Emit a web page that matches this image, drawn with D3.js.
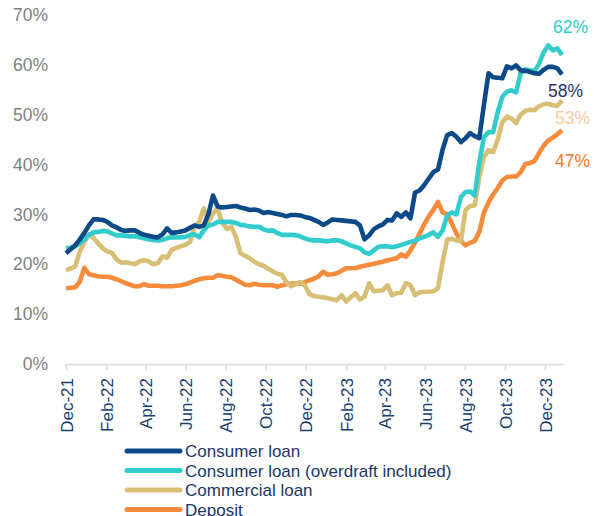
<!DOCTYPE html>
<html>
<head>
<meta charset="utf-8">
<script src="https://cdn.jsdelivr.net/npm/d3@7"></script>
<style>
  body { margin: 0; background: #fff; }
  text { font-family: "Liberation Sans", Arial, sans-serif; }
</style>
</head>
<body>
<div id="chart"></div>
<script>
// Weekly observations, first one on 1 Dec 2021
var firstWeek = "2021-12-01";

// Share of ... (%), one value per week
var consumerLoan = [
  22.2, 23.0, 23.8, 25.0, 26.3, 27.8, 29.0, 29.0, 28.9, 28.5,
  27.8, 27.4, 26.9, 26.7, 26.8, 26.8, 26.3, 25.9, 25.7, 25.5,
  25.4, 26.0, 27.2, 26.3, 26.4, 26.6, 26.8, 27.3, 27.8, 27.5,
  27.8, 30.0, 33.8, 31.6, 31.4, 31.5, 31.6, 31.7, 31.4, 31.2,
  30.9, 31.0, 30.8, 30.3, 30.5, 30.3, 30.1, 29.9, 29.6, 29.9,
  29.9, 29.8, 29.5, 29.3, 28.9, 28.5, 27.9, 28.4, 29.0, 28.9,
  28.8, 28.7, 28.6, 28.5, 27.8, 25.0, 25.8, 27.0, 27.6, 28.0,
  28.9, 28.8, 30.2, 29.5, 30.4, 29.2, 34.4, 34.8, 35.9, 37.2,
  38.5, 39.0, 43.0, 45.9, 46.3, 45.6, 44.5, 45.3, 46.3, 45.7,
  45.3, 52.0, 58.3, 57.5, 57.4, 57.3, 59.7, 59.3, 59.9, 58.9,
  58.8, 58.6, 58.3, 58.2, 59.0, 59.6, 59.6, 59.3, 58.1
];

var consumerLoanOverdraft = [
  23.2, 23.3, 23.6, 24.2, 25.0, 25.9, 26.4, 26.5, 26.7, 26.6,
  26.2, 25.8, 25.8, 25.7, 25.6, 25.6, 25.4, 25.2, 25.0, 24.9,
  24.8, 24.9, 25.2, 25.4, 25.4, 25.4, 25.5, 25.9, 26.0, 25.4,
  26.8, 27.8, 28.0, 28.5, 28.5, 28.5, 28.5, 28.3, 27.9, 27.8,
  27.6, 27.5, 27.5, 27.0, 26.7, 26.8, 26.3, 25.9, 25.9, 25.9,
  25.8, 25.6, 25.2, 24.9, 24.8, 24.8, 24.7, 24.6, 24.8, 24.8,
  24.6, 24.2, 23.8, 23.5, 23.2, 22.4, 22.1, 22.8, 23.5, 23.6,
  23.6, 23.4, 23.6, 23.9, 24.2, 24.5, 24.7, 25.2, 25.5, 25.9,
  26.4, 25.5, 26.8, 29.8, 30.4, 30.0, 33.5, 34.5, 34.6, 33.8,
  40.5, 45.5, 46.5, 46.5, 50.5, 53.6, 54.6, 54.9, 54.5, 58.3,
  59.1, 58.9, 58.7, 60.2, 62.5, 63.9, 62.9, 63.3, 62.0
];

var commercialLoan = [
  18.8, 19.2, 19.6, 22.5, 24.4, 26.0, 25.3, 24.2, 23.2, 22.6,
  22.3, 21.0, 20.3, 20.4, 20.2, 20.0, 20.6, 20.8, 20.6, 20.0,
  20.2, 21.6, 21.3, 22.9, 23.3, 23.6, 23.9, 24.5, 27.6, 28.5,
  31.2, 28.5, 30.2, 31.2, 28.4, 27.1, 27.5, 25.5, 22.2, 21.7,
  21.2, 20.5, 20.0, 19.7, 19.1, 18.6, 18.1, 17.9, 16.4, 15.6,
  16.0, 16.4, 15.8, 14.0, 13.6, 13.5, 13.4, 13.2, 13.0, 12.8,
  13.8, 12.5, 13.4, 14.2, 12.9, 13.5, 16.2, 14.6, 14.7, 14.8,
  15.8, 13.8, 14.2, 14.3, 16.2, 15.8, 13.8, 14.4, 14.5, 14.5,
  14.6, 15.2, 20.5, 25.0, 25.1, 24.8, 24.7, 30.9, 31.7, 31.8,
  37.5, 41.5, 42.9, 42.5, 45.0, 48.5, 49.6, 49.2, 48.3, 50.0,
  50.8, 51.0, 50.9, 51.7, 52.1, 52.2, 51.9, 51.8, 52.9
];

var deposit = [
  15.2, 15.3, 15.4, 16.5, 19.3, 18.0, 17.8, 17.6, 17.5, 17.5,
  17.3, 17.0, 16.6, 16.2, 15.9, 15.6, 15.6, 16.0, 15.7, 15.7,
  15.7, 15.6, 15.6, 15.6, 15.7, 15.8, 16.0, 16.3, 16.7, 17.0,
  17.2, 17.3, 17.3, 17.8, 17.7, 17.5, 17.4, 16.9, 16.4, 15.9,
  15.8, 16.1, 15.9, 15.8, 15.8, 15.8, 15.5, 15.8, 16.0, 16.1,
  16.2, 16.1, 16.4, 16.8, 17.1, 17.6, 18.5, 17.9, 18.0, 18.2,
  18.7, 19.2, 19.2, 19.2, 19.5, 19.7, 19.9, 20.1, 20.3, 20.5,
  20.8, 21.0, 21.2, 22.0, 21.5, 22.8, 24.3, 26.2, 28.0, 29.6,
  30.9, 32.5, 30.4, 30.0, 28.2, 26.2, 24.7, 23.8, 24.3, 24.7,
  26.5, 30.4, 32.4, 34.0, 35.3, 36.8, 37.5, 37.6, 37.6, 38.5,
  40.1, 40.3, 40.7, 42.3, 43.8, 44.8, 45.4, 46.1, 46.9
];

// Tick labels for both axes
var xTickLabels = ["Dec-21", "Feb-22", "Apr-22", "Jun-22", "Aug-22", "Oct-22", "Dec-22",
  "Feb-23", "Apr-23", "Jun-23", "Aug-23", "Oct-23", "Dec-23"];
var yTickValues = [0, 10, 20, 30, 40, 50, 60, 70];

var seriesNames = ["Consumer loan", "Consumer loan (overdraft included)", "Commercial loan", "Deposit"];
var seriesValues = [consumerLoan, consumerLoanOverdraft, commercialLoan, deposit];

// Styles for each series: line colour, end label colour and label offset
var seriesStyle = [
  {color: "#0b4a87", labelColor: "#1b3766", dx: -14, dy: 23},
  {color: "#33cccc", labelColor: "#33cccc", dx: -9, dy: -22},
  {color: "#d9bf76", labelColor: "#fbc9a0", dx: -7, dy: 24},
  {color: "#f68b3c", labelColor: "#f47a2e", dx: -7, dy: 37}
];

var svgWidth = 594;
var svgHeight = 516;

var svg = d3.select("#chart")
  .append("svg")
  .attr("width", svgWidth)
  .attr("height", svgHeight);

// Build the weekly dates
var parseDate = d3.timeParse("%Y-%m-%d");
var parseTick = d3.timeParse("%b-%y");
var start = parseDate(firstWeek);
var dates = consumerLoan.map((d, i) => d3.timeDay.offset(start, 7 * i));

var series = seriesNames.map(function (name, s) {
  return {
    name: name,
    style: seriesStyle[s],
    values: seriesValues[s].map((v, i) => ({date: dates[i], value: v}))
  };
});

// Scales
var xTimeScale = d3.scaleTime()
  .domain([start, dates[dates.length - 1]])
  .range([66, 562]);

var yLinearScale = d3.scaleLinear()
  .domain([0, 70])
  .range([364, 15]);

// Bottom axis with rotated month labels
var bottomAxis = d3.axisBottom(xTimeScale)
  .tickValues(xTickLabels.map(parseTick))
  .tickSize(6)
  .tickFormat(d3.timeFormat("%b-%y"));

var xAxis = svg.append("g")
  .attr("transform", "translate(0, 364)")
  .call(bottomAxis);

xAxis.select(".domain")
  .attr("stroke", "#d9d9d9")
  .attr("stroke-width", 1.5)
  .attr("d", "M65,0.5H563.5");
xAxis.selectAll(".tick line").attr("stroke", "#d9d9d9").attr("stroke-width", 1.5);
xAxis.selectAll(".tick text")
  .attr("transform", "rotate(-90)")
  .attr("text-anchor", "end")
  .attr("x", -14)
  .attr("y", 0)
  .attr("dy", "0.36em")
  .style("font-size", "17px")
  .attr("fill", "#17406f");

// Left axis: labels only
var leftAxis = d3.axisLeft(yLinearScale)
  .tickValues(yTickValues)
  .tickSize(0)
  .tickPadding(18)
  .tickFormat(d => d + "%");

var yAxis = svg.append("g")
  .attr("transform", "translate(66, 0)")
  .call(leftAxis);

yAxis.select(".domain").remove();
yAxis.selectAll(".tick text")
  .style("font-size", "17.5px")
  .attr("fill", "#7f7f7f");

// Lines
var line = d3.line()
  .x(d => xTimeScale(d.date))
  .y(d => yLinearScale(d.value));

// draw deposit first so the loans sit on top
svg.append("g")
  .selectAll("path")
  .data(series.slice().reverse())
  .enter()
  .append("path")
  .attr("d", d => line(d.values))
  .attr("fill", "none")
  .attr("stroke", d => d.style.color)
  .attr("stroke-width", 4.6)
  .attr("stroke-linejoin", "round");

// End-of-line value labels
svg.append("g")
  .selectAll("text")
  .data(series)
  .enter()
  .append("text")
  .attr("x", d => xTimeScale(d.values[d.values.length - 1].date) + d.style.dx)
  .attr("y", d => yLinearScale(d.values[d.values.length - 1].value) + d.style.dy)
  .style("font-size", "17.5px")
  .attr("fill", d => d.style.labelColor)
  .text(d => Math.round(d.values[d.values.length - 1].value) + "%");

// Legend
var legend = svg.append("g")
  .attr("transform", "translate(127, 451)");

var legendItems = legend.selectAll("g")
  .data(series)
  .enter()
  .append("g")
  .attr("transform", (d, i) => `translate(0, ${i * 19.5})`);

legendItems.append("line")
  .attr("x1", 0)
  .attr("x2", 53)
  .attr("stroke", d => d.style.color)
  .attr("stroke-width", 5)
  .attr("stroke-linecap", "round");

legendItems.append("text")
  .attr("x", 58)
  .attr("dy", "0.36em")
  .style("font-size", "17px")
  .attr("fill", "#1b3766")
  .text(d => d.name);
</script>
</body>
</html>
